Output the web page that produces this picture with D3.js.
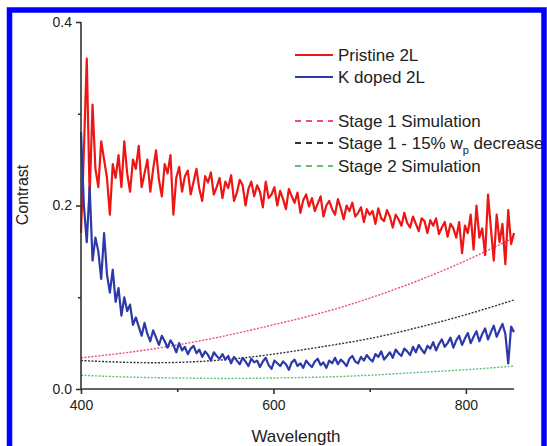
<!DOCTYPE html>
<html>
<head>
    <meta charset="utf-8">
    <title>Contrast vs Wavelength</title>
    <style>
        body { margin: 0; background: #fff; }
        text { font-family: 'Liberation Sans', Arial, sans-serif; fill: #222; }
    </style>
</head>
<body>
<div id="chart"></div>
<script src="https://cdn.jsdelivr.net/npm/d3@7"></script>
<script>
    // measured spectra, sampled every 3 nm from 400 nm
    var wlStart = 400;
    var wlStep = 3;
    var pristine = [
        0.17,0.26,0.36,0.21,0.31,0.24,0.22,0.27,0.25,0.23,
        0.19,0.245,0.23,0.255,0.22,0.27,0.235,0.215,0.25,0.24,
        0.265,0.22,0.235,0.25,0.215,0.24,0.26,0.228,0.21,0.245,
        0.235,0.255,0.19,0.23,0.242,0.215,0.232,0.238,0.212,0.226,
        0.24,0.218,0.205,0.232,0.225,0.236,0.212,0.22,0.23,0.208,
        0.226,0.219,0.233,0.205,0.214,0.228,0.222,0.2,0.218,0.226,
        0.21,0.222,0.215,0.198,0.226,0.208,0.212,0.22,0.2,0.216,
        0.207,0.196,0.218,0.21,0.203,0.214,0.192,0.206,0.212,0.199,
        0.208,0.194,0.202,0.21,0.188,0.2,0.205,0.196,0.19,0.207,
        0.197,0.185,0.2,0.194,0.203,0.188,0.192,0.198,0.182,0.196,
        0.19,0.194,0.18,0.197,0.186,0.183,0.195,0.188,0.176,0.19,
        0.185,0.178,0.192,0.181,0.176,0.188,0.18,0.172,0.186,0.183,
        0.17,0.184,0.178,0.186,0.169,0.176,0.182,0.166,0.18,0.175,
        0.165,0.182,0.148,0.178,0.17,0.19,0.152,0.2,0.165,0.175,
        0.146,0.212,0.175,0.14,0.19,0.16,0.18,0.136,0.195,0.158,
        0.17
    ];
    var kDoped = [
        0.28,0.2,0.16,0.22,0.14,0.165,0.15,0.12,0.17,0.125,
        0.105,0.13,0.095,0.11,0.08,0.1,0.085,0.092,0.07,0.078,
        0.068,0.058,0.072,0.06,0.052,0.064,0.056,0.048,0.058,0.052,
        0.045,0.053,0.048,0.04,0.05,0.042,0.046,0.038,0.044,0.047,
        0.039,0.043,0.035,0.041,0.037,0.031,0.04,0.036,0.033,0.038,
        0.032,0.036,0.028,0.035,0.031,0.027,0.034,0.03,0.025,0.033,
        0.029,0.031,0.024,0.03,0.034,0.026,0.022,0.031,0.028,0.025,
        0.03,0.027,0.021,0.029,0.032,0.025,0.028,0.023,0.031,0.027,
        0.024,0.03,0.033,0.026,0.029,0.023,0.031,0.028,0.034,0.027,
        0.032,0.029,0.025,0.033,0.036,0.03,0.028,0.035,0.031,0.037,
        0.033,0.03,0.038,0.035,0.041,0.032,0.036,0.04,0.034,0.043,
        0.039,0.036,0.044,0.041,0.037,0.046,0.04,0.048,0.043,0.039,
        0.047,0.044,0.051,0.042,0.049,0.054,0.046,0.05,0.056,0.045,
        0.053,0.058,0.048,0.055,0.061,0.05,0.057,0.063,0.052,0.06,
        0.066,0.054,0.062,0.069,0.057,0.064,0.071,0.06,0.028,0.068,
        0.062
    ];

    // simulations
    var simWl = [400, 450, 500, 550, 600, 650, 700, 750, 800, 850];
    var stage1Sim = [0.034, 0.040, 0.048, 0.058, 0.070, 0.083, 0.099, 0.118, 0.140, 0.165];
    var stage1Wp = [0.031, 0.029, 0.029, 0.032, 0.038, 0.046, 0.055, 0.067, 0.081, 0.097];
    var stage2Sim = [0.015, 0.013, 0.012, 0.0115, 0.012, 0.013, 0.015, 0.018, 0.021, 0.025];

    var xMajor = [400, 600, 800];
    var xMinor = [500, 700];
    var xTickLabels = ['400', '600', '800'];
    var yMajor = [0.0, 0.2, 0.4];
    var yMinor = [0.1, 0.3];
    var yTickLabels = ['0.0', '0.2', '0.4'];

    var width = 547;
    var height = 446;

    var x = d3.scaleLinear().domain([400, 850]).range([81, 514]);
    var y = d3.scaleLinear().domain([0, 0.4]).range([389, 22]);

    var svg = d3.select('#chart')
        .append('svg')
        .attr('width', width)
        .attr('height', height);

    function toPoints(vals) {
        return vals.map(function(v, i) { return [wlStart + i * wlStep, v]; });
    }
    function simPoints(vals) {
        return vals.map(function(v, i) { return [simWl[i], v]; });
    }

    var line = d3.line()
        .x(function(d) { return x(d[0]); })
        .y(function(d) { return y(d[1]); });
    var smooth = d3.line()
        .curve(d3.curveNatural)
        .x(function(d) { return x(d[0]); })
        .y(function(d) { return y(d[1]); });

    // simulation curves
    var sims = [
        { vals: stage2Sim, color: '#5dbf7a' },
        { vals: stage1Wp, color: '#333333' },
        { vals: stage1Sim, color: '#ee4a86' }
    ];
    sims.forEach(function(s) {
        svg.append('path')
            .attr('d', smooth(simPoints(s.vals)))
            .attr('fill', 'none')
            .attr('stroke', s.color)
            .attr('stroke-width', 1.4)
            .attr('stroke-dasharray', '2,1.5');
    });

    svg.append('path')
        .attr('d', line(toPoints(pristine)))
        .attr('fill', 'none')
        .attr('stroke', '#ee1515')
        .attr('stroke-width', 2.2)
        .attr('stroke-linejoin', 'round');

    svg.append('path')
        .attr('d', line(toPoints(kDoped)))
        .attr('fill', 'none')
        .attr('stroke', '#2b3aa8')
        .attr('stroke-width', 2.2)
        .attr('stroke-linejoin', 'round');

    // axes
    var xAxis = svg.append('g')
        .attr('transform', 'translate(0,' + y(0) + ')')
        .call(d3.axisBottom(x).tickValues(xMajor)
            .tickFormat(function(d, i) { return xTickLabels[i]; })
            .tickSize(5).tickPadding(6));
    svg.append('g')
        .attr('transform', 'translate(0,' + y(0) + ')')
        .call(d3.axisBottom(x).tickValues(xMinor).tickFormat('').tickSize(3))
        .select('.domain').remove();

    var yAxis = svg.append('g')
        .attr('transform', 'translate(' + x(400) + ',0)')
        .call(d3.axisLeft(y).tickValues(yMajor)
            .tickFormat(function(d, i) { return yTickLabels[i]; })
            .tickSize(5).tickPadding(4));
    svg.append('g')
        .attr('transform', 'translate(' + x(400) + ',0)')
        .call(d3.axisLeft(y).tickValues(yMinor).tickFormat('').tickSize(3))
        .select('.domain').remove();

    svg.selectAll('.domain, .tick line')
        .attr('stroke', '#333')
        .attr('stroke-width', 1.6);
    svg.selectAll('.tick text')
        .style('font-size', '14px')
        .style('font-family', "'Liberation Sans', Arial, sans-serif")
        .attr('fill', '#222');
    xAxis.select('.domain').attr('d', 'M' + x(400) + ',0H' + x(850));
    yAxis.select('.domain').attr('d', 'M0,' + y(0.4) + 'V' + y(0));

    svg.append('text')
        .attr('x', 296)
        .attr('y', 442)
        .attr('text-anchor', 'middle')
        .style('font-size', '17px')
        .text('Wavelength');

    svg.append('text')
        .attr('transform', 'translate(28,195) rotate(-90)')
        .attr('text-anchor', 'middle')
        .style('font-size', '16px')
        .text('Contrast');

    // legend
    var legendItems = [
        { label: 'Pristine 2L', color: '#ee1515', dash: null, y: 55 },
        { label: 'K doped 2L', color: '#2b3aa8', dash: null, y: 77 },
        { label: 'Stage 1 Simulation', color: '#ee4a86', dash: '6,5', y: 121 },
        { label: 'Stage 1 - 15% w', sub: 'p', rest: ' decrease', color: '#333333', dash: '6,5', y: 143 },
        { label: 'Stage 2 Simulation', color: '#5dbf7a', dash: '6,5', y: 166 }
    ];
    var legend = svg.selectAll('.legend')
        .data(legendItems)
        .enter()
        .append('g')
        .attr('class', 'legend')
        .attr('transform', function(d) { return 'translate(0,' + d.y + ')'; });

    legend.append('line')
        .attr('x1', 295).attr('x2', 333)
        .attr('y1', 0).attr('y2', 0)
        .attr('stroke', function(d) { return d.color; })
        .attr('stroke-width', function(d) { return d.dash ? 1.8 : 2; })
        .attr('stroke-dasharray', function(d) { return d.dash; });

    var lt = legend.append('text')
        .attr('x', 338)
        .attr('y', 6)
        .style('font-size', '17px');
    lt.append('tspan').text(function(d) { return d.label; });
    lt.filter(function(d) { return d.sub; })
        .append('tspan')
        .attr('dy', 5)
        .style('font-size', '11px')
        .text(function(d) { return d.sub; });
    lt.filter(function(d) { return d.rest; })
        .append('tspan')
        .attr('dy', -5)
        .text(function(d) { return d.rest; });

    // blue frame
    svg.append('rect')
        .attr('x', 9.5)
        .attr('y', 10)
        .attr('width', 534.5)
        .attr('height', 460)
        .attr('fill', 'none')
        .attr('stroke', '#0000ff')
        .attr('stroke-width', 5.5);
</script>
</body>
</html>
